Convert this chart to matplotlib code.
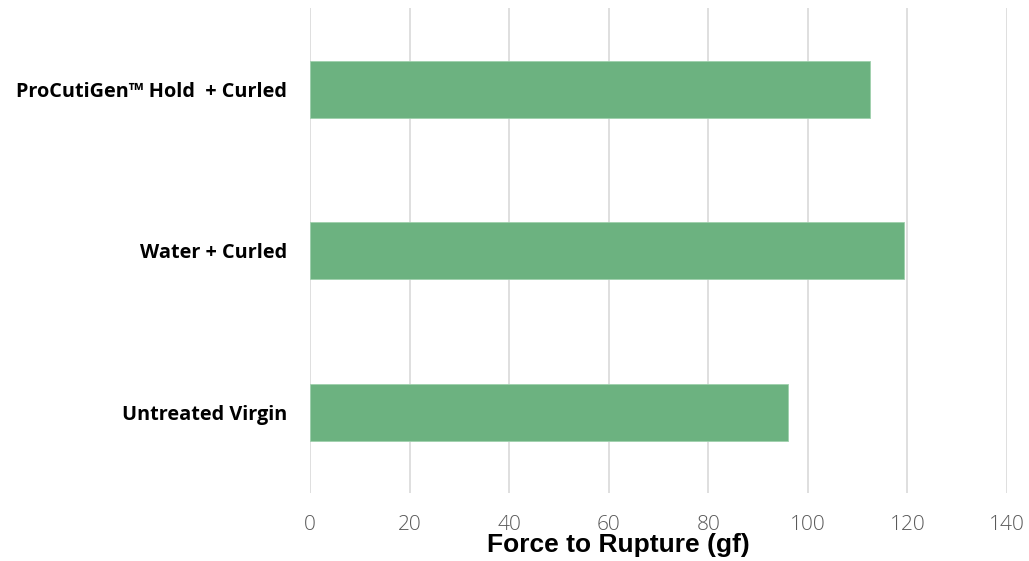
import matplotlib
matplotlib.use("Agg")
import matplotlib.pyplot as plt

# data
categories = ["Untreated Virgin", "Water + Curled", "ProCutiGen\u2122 Hold  + Curled"]
force_gf = [96.1, 119.4, 112.4]
x_ticks = [0, 20, 40, 60, 80, 100, 120, 140]

BAR_COLOR = "#6cb280"
GRID_COLOR = "#d9d9d9"

fig = plt.figure(figsize=(10.29, 5.61), dpi=100)
ax = fig.add_axes([310 / 1029, 1 - 493.3 / 561, 697 / 1029, 485.1 / 561])

ax.barh(range(len(categories)), force_gf, height=0.353,
        color=BAR_COLOR, edgecolor="#9fd0ad", linewidth=0.6, zorder=3)

ax.set_xlim(0, 140)
ax.set_ylim(-0.5, len(categories) - 0.5)
ax.set_xticks(x_ticks)
ax.set_yticks(range(len(categories)))
ax.set_yticklabels(categories)

# vertical gridlines only
ax.grid(axis="x", color=GRID_COLOR, linewidth=1.2, zorder=0)
ax.grid(axis="y", visible=False)
for s in ax.spines.values():
    s.set_visible(False)

ax.tick_params(axis="x", length=0, pad=15.5, labelsize=15, labelcolor="#595959")
ax.tick_params(axis="y", length=0, pad=16.5, labelsize=14.3)
for lbl in ax.get_xticklabels():
    lbl.set_family(["Open Sans", "DejaVu Sans"])
    lbl.set_fontweight("light")
for lbl in ax.get_yticklabels():
    lbl.set_family(["Open Sans", "DejaVu Sans"])
    lbl.set_fontweight("bold")

fig.text(618 / 1029, 1 - 552 / 561, "Force to Rupture (gf)",
         ha="center", va="baseline", fontsize=19, fontweight="bold",
         family=["Liberation Sans Narrow", "Liberation Sans", "DejaVu Sans"])

fig.savefig("out.png", dpi=100)
